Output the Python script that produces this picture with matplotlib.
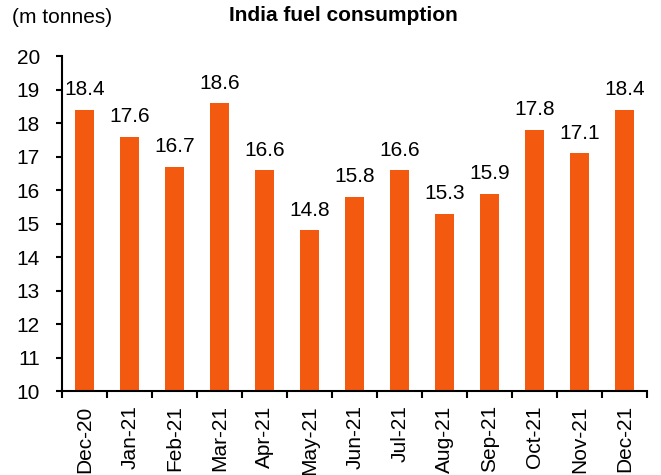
import matplotlib.pyplot as plt
import numpy as np

plt.rcParams['font.family'] = ['Liberation Sans', 'DejaVu Sans']

months = ['Dec-20', 'Jan-21', 'Feb-21', 'Mar-21', 'Apr-21', 'May-21', 'Jun-21',
          'Jul-21', 'Aug-21', 'Sep-21', 'Oct-21', 'Nov-21', 'Dec-21']
consumption = [18.4, 17.6, 16.7, 18.6, 16.6, 14.8, 15.8, 16.6, 15.3, 15.9, 17.8, 17.1, 18.4]
bar_color = '#F35A10'


def main():
    fig = plt.figure(figsize=(6.61, 4.75), dpi=100)
    ax = fig.add_axes([0.094, 0.176, 0.885, 0.706])
    x = np.arange(len(months))
    ax.bar(x, consumption, width=0.42, color=bar_color)

    for xi, v in zip(x, consumption):
        ax.annotate('%.1f' % v, (xi, v), xytext=(0, 7.5), textcoords='offset points',
                    ha='center', va='bottom', fontsize=15)

    ax.set_ylim(10, 20)
    ax.set_xlim(-0.5, len(months) - 0.5)
    ax.set_yticks(range(10, 21))
    ax.tick_params(axis='y', labelsize=15, direction='out', length=4, width=1.5, pad=12)

    ax.set_xticks(x)
    ax.set_xticklabels(months, rotation=90, fontsize=15)
    ax.tick_params(axis='x', which='major', length=0, pad=10)
    ax.set_xticks(np.arange(-0.5, len(months), 1), minor=True)
    ax.tick_params(axis='x', which='minor', direction='out', length=5, width=1.5)

    for s in ['top', 'right']:
        ax.spines[s].set_visible(False)
    for s in ['left', 'bottom']:
        ax.spines[s].set_linewidth(1.5)

    fig.text(0.018, 0.964, '(m tonnes)', fontsize=15, va='center', ha='left')
    fig.text(0.52, 0.968, 'India fuel consumption', fontsize=15, fontweight='bold',
             va='center', ha='center')

    fig.savefig('out.png', dpi=100)


if __name__ == '__main__':
    main()
